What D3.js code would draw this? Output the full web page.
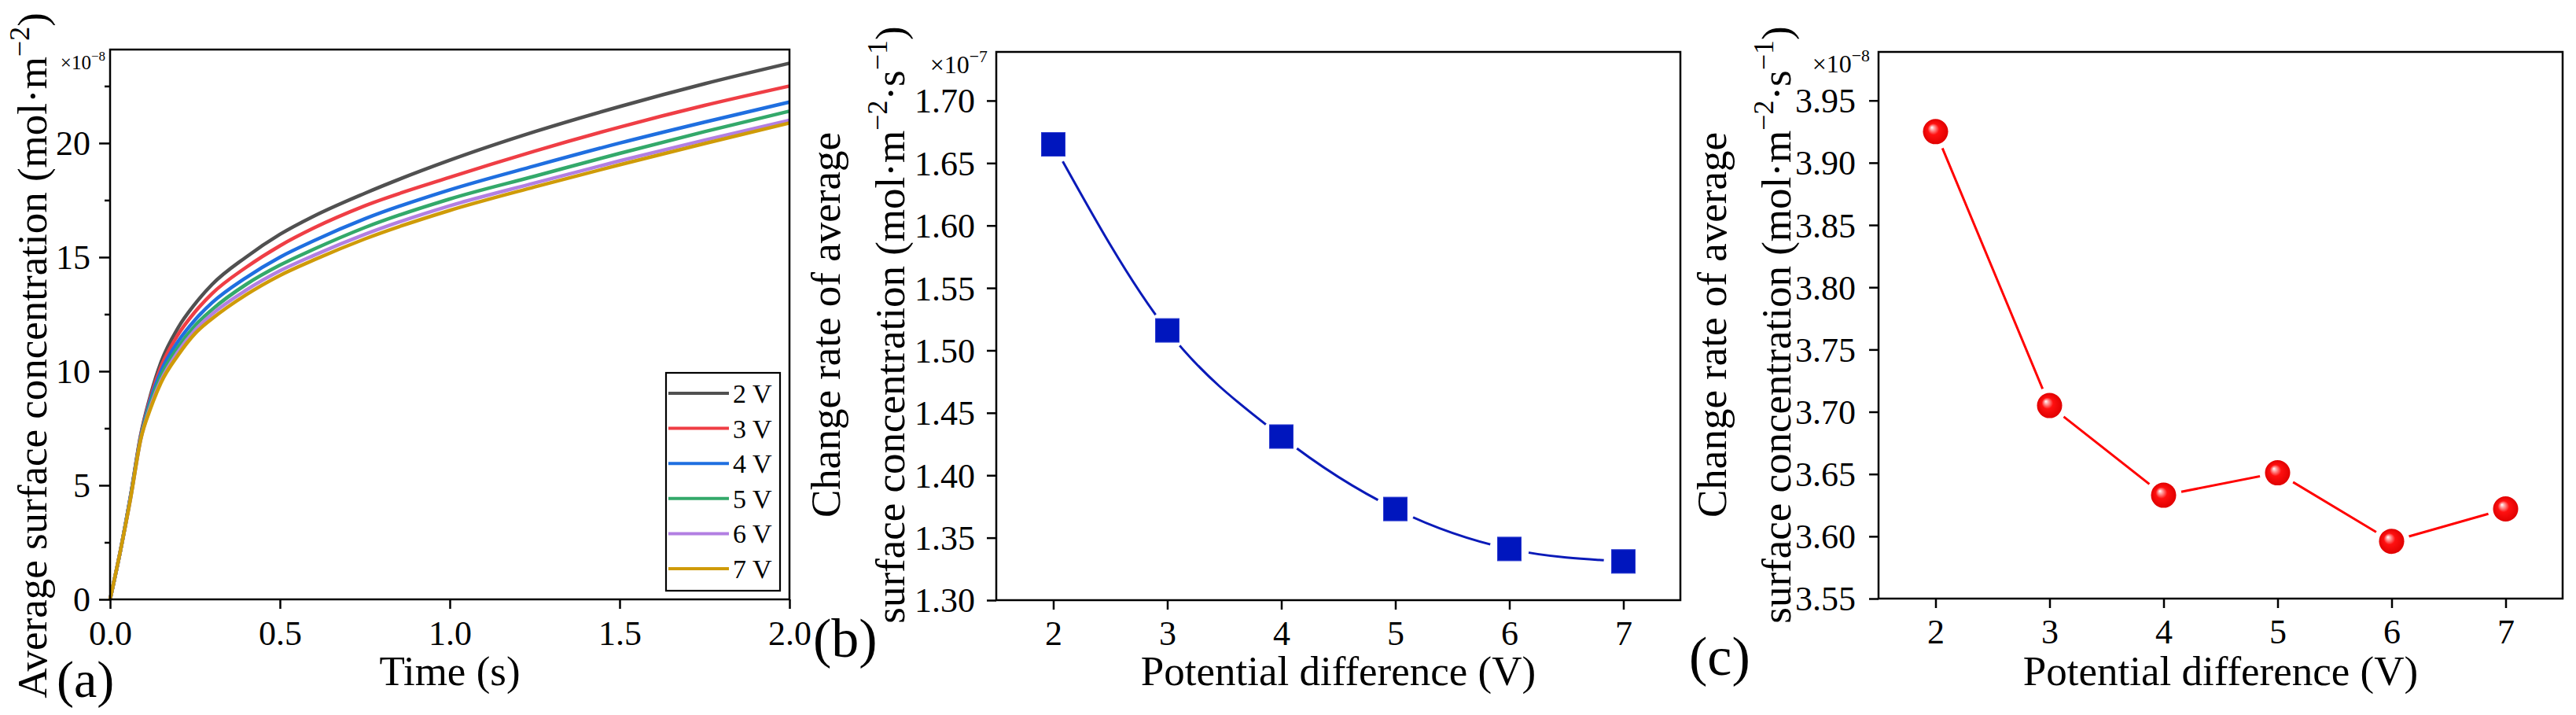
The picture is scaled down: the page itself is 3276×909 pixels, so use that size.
<!DOCTYPE html>
<html>
<head>
<meta charset="utf-8">
<script src="https://cdn.jsdelivr.net/npm/d3@7"></script>
<style>
  body { margin: 0; background: #fff; }
  svg { display: block; }
  text { font-family: "Liberation Serif", "Times New Roman", serif; fill: #000; }
</style>
</head>
<body>
<svg id="chart" width="3276" height="909"></svg>
<script>
// ---------------- DATA ----------------
// Panel (a): average surface concentration (x1e-8 mol/m2) vs time (s)
const timeS   = [0, 0.03, 0.06, 0.09, 0.12, 0.15, 0.2, 0.25, 0.3, 0.4, 0.5, 0.6, 0.75, 1.0, 1.25, 1.5, 1.75, 2.0];
const conc2V  = [0, 2.1, 4.5, 7.2, 9.0, 10.4, 11.9, 12.95, 13.8, 15.0, 16.0, 16.8, 17.8, 19.25, 20.5, 21.6, 22.6, 23.5];
const conc3V  = [0, 2.1, 4.5, 7.15, 8.9, 10.2, 11.6, 12.6, 13.4, 14.55, 15.5, 16.28, 17.25, 18.5, 19.65, 20.7, 21.65, 22.5];
const conc4V  = [0, 2.1, 4.5, 7.1, 8.8, 10.0, 11.3, 12.25, 13.0, 14.1, 15.0, 15.72, 16.68, 17.95, 19.0, 20.0, 20.92, 21.8];
const conc5V  = [0, 2.1, 4.45, 7.05, 8.65, 9.8, 11.05, 12.0, 12.7, 13.8, 14.65, 15.35, 16.3, 17.55, 18.55, 19.55, 20.5, 21.4];
const conc6V  = [0, 2.1, 4.4, 7.0, 8.5, 9.6, 10.85, 11.8, 12.5, 13.55, 14.4, 15.08, 16.0, 17.25, 18.25, 19.22, 20.13, 21.0];
const conc7V  = [0, 2.1, 4.4, 7.0, 8.4, 9.5, 10.7, 11.65, 12.3, 13.35, 14.2, 14.88, 15.8, 17.05, 18.08, 19.05, 19.98, 20.88];
const seriesNames  = ["2 V", "3 V", "4 V", "5 V", "6 V", "7 V"];
const seriesColors = ["#505050", "#ef3e45", "#1f6fe0", "#33a96a", "#b27fe2", "#cf9b08"];

// Panel (b) and (c): change rate vs potential difference
const potentialV = [2, 3, 4, 5, 6, 7];
const rateB = [1.665, 1.516, 1.431, 1.373, 1.341, 1.331];   // x1e-7
const rateC = [3.925, 3.705, 3.633, 3.651, 3.596, 3.622];   // x1e-8

// Tick values
const ticksAx = [0, 0.5, 1.0, 1.5, 2.0];
const ticksAy = [0, 5, 10, 15, 20];
const ticksAyMinor = [2.5, 7.5, 12.5, 17.5, 22.5];
const ticksV  = [2, 3, 4, 5, 6, 7];
const ticksBy = [1.30, 1.35, 1.40, 1.45, 1.50, 1.55, 1.60, 1.65, 1.70];
const ticksCy = [3.55, 3.60, 3.65, 3.70, 3.75, 3.80, 3.85, 3.90, 3.95];

// ---------------- DRAW ----------------
const svg = d3.select("#chart");
svg.append("rect").attr("width", 3276).attr("height", 909).attr("fill", "#fff");

const defs = svg.append("defs");
const grad = defs.append("radialGradient").attr("id", "ball")
  .attr("cx", "0.5").attr("cy", "0.5").attr("r", "0.5")
  .attr("fx", "0.35").attr("fy", "0.33");
grad.append("stop").attr("offset", "0").attr("stop-color", "#ffffff");
grad.append("stop").attr("offset", "0.18").attr("stop-color", "#ff9a9a");
grad.append("stop").attr("offset", "0.45").attr("stop-color", "#ff1010");
grad.append("stop").attr("offset", "1").attr("stop-color", "#e00000");

const TICK_FONT = 44, TITLE_FONT = 53, SW = 2.5;

function frame(p) {
  svg.append("rect")
    .attr("x", p.x0).attr("y", p.y0)
    .attr("width", p.x1 - p.x0).attr("height", p.y1 - p.y0)
    .attr("fill", "none").attr("stroke", "#000").attr("stroke-width", SW);
}

function styleAxis(g) {
  g.select(".domain").remove();
  g.selectAll(".tick line").attr("stroke", "#000").attr("stroke-width", SW);
  g.selectAll(".tick text").attr("font-size", TICK_FONT)
    .attr("font-family", "Liberation Serif, Times New Roman, serif").attr("fill", "#000");
}

function xAxis(p, x, ticks, fmt, size, baseline) {
  const g = svg.append("g").attr("transform", `translate(0,${p.y1})`)
    .call(d3.axisBottom(x).tickValues(ticks).tickFormat(fmt).tickSize(size).tickSizeOuter(0));
  styleAxis(g);
  g.selectAll(".tick text").attr("y", baseline - p.y1).attr("dy", 0);
}

function yAxis(p, y, ticks, fmt, size, labelRight) {
  const g = svg.append("g").attr("transform", `translate(${p.x0},0)`)
    .call(d3.axisLeft(y).tickValues(ticks).tickFormat(fmt).tickSize(size).tickSizeOuter(0));
  styleAxis(g);
  g.selectAll(".tick text").attr("x", labelRight - p.x0).attr("dy", "0.34em");
  return g;
}

function multiplier(xEnd, baseline, exp, size) {
  const t = svg.append("text").attr("x", xEnd).attr("y", baseline)
    .attr("text-anchor", "end").attr("font-size", size);
  t.append("tspan").text("×10");
  t.append("tspan").attr("dy", -size * 0.45).attr("font-size", size * 0.68).text("−" + exp);
}

function supLabel(parent, parts, size) {
  // parts: array of [text, isSup]
  let shift = 0;
  parts.forEach(([s, sup]) => {
    const ts = parent.append("tspan").text(s);
    if (sup && shift === 0) { ts.attr("dy", -size * 0.42).attr("font-size", size * 0.68); shift = 1; }
    else if (!sup && shift === 1) { ts.attr("dy", size * 0.42); shift = 0; }
    else if (sup) { ts.attr("font-size", size * 0.68); }
  });
}

// ---------- Panel (a) ----------
const pA = { x0: 140, x1: 1004, y0: 63, y1: 762 };
const xA = d3.scaleLinear().domain([0, 2]).range([pA.x0, pA.x1]);
const yA = d3.scaleLinear().domain([0, 24.1]).range([pA.y1, pA.y0]);

const allSeries = [conc2V, conc3V, conc4V, conc5V, conc6V, conc7V];
const lineA = d3.line().x((d, i) => xA(timeS[i])).y(d => yA(d)).curve(d3.curveMonotoneX);
const gA = svg.append("g");
allSeries.forEach((s, k) => {
  gA.append("path").attr("d", lineA(s)).attr("fill", "none")
    .attr("stroke", seriesColors[k]).attr("stroke-width", 4.5).attr("stroke-linejoin", "round");
});

xAxis(pA, xA, ticksAx, d3.format(".1f"), 12, 820);
yAxis(pA, yA, ticksAy, d3.format("d"), 14, 115);
const gAm = svg.append("g").attr("transform", `translate(${pA.x0},0)`)
  .call(d3.axisLeft(yA).tickValues(ticksAyMinor).tickFormat("").tickSize(7).tickSizeOuter(0));
styleAxis(gAm);
frame(pA);
multiplier(134, 88, "8", 25);

// legend
const leg = { x0: 847, y0: 474, x1: 992, y1: 751 };
svg.append("rect").attr("x", leg.x0).attr("y", leg.y0)
  .attr("width", leg.x1 - leg.x0).attr("height", leg.y1 - leg.y0)
  .attr("fill", "#fff").attr("stroke", "#000").attr("stroke-width", 2.2);
const legY = d3.scalePoint().domain(seriesNames).range([500, 723]);
seriesNames.forEach((n, k) => {
  const yy = legY(n);
  svg.append("line").attr("x1", 850).attr("x2", 927).attr("y1", yy).attr("y2", yy)
    .attr("stroke", seriesColors[k]).attr("stroke-width", 4);
  svg.append("text").attr("x", 932).attr("y", yy + 12).attr("font-size", 34).text(n);
});

// titles (a)
svg.append("text").attr("x", xA(1)).attr("y", 871).attr("text-anchor", "middle")
  .attr("font-size", TITLE_FONT).text("Time (s)");
const tA = svg.append("text").attr("transform", "translate(59,452) rotate(-90)")
  .attr("text-anchor", "middle").attr("font-size", TITLE_FONT);
supLabel(tA, [["Average surface concentration (mol·m", false], ["−2", true], [")", false]], TITLE_FONT);
svg.append("text").attr("x", 72).attr("y", 886).attr("font-size", 66).text("(a)");

// ---------- Panel (b) ----------
const pB = { x0: 1267, x1: 2137, y0: 66, y1: 763 };
const xB = d3.scaleLinear().domain([1.5, 7.5]).range([pB.x0, pB.x1]);
const yB = d3.scaleLinear().domain([1.30, 1.739]).range([pB.y1, pB.y0]);
const lineB = d3.line().x((d, i) => xB(potentialV[i])).y(d => yB(d)).curve(d3.curveMonotoneX);
svg.append("path").attr("d", lineB(rateB)).attr("fill", "none")
  .attr("stroke", "#0a1ab8").attr("stroke-width", 3);
svg.append("g").selectAll("circle").data(rateB).join("circle")
  .attr("cx", (d, i) => xB(potentialV[i])).attr("cy", d => yB(d)).attr("r", 25).attr("fill", "#fff");
svg.append("g").selectAll("rect").data(rateB).join("rect")
  .attr("x", (d, i) => xB(potentialV[i]) - 15).attr("y", d => yB(d) - 15)
  .attr("width", 30).attr("height", 30).attr("fill", "#0016be")
  .attr("stroke", "#2a3ad0").attr("stroke-width", 1);

xAxis(pB, xB, ticksV, d3.format("d"), 12, 820);
yAxis(pB, yB, ticksBy, d3.format(".2f"), 12, 1240);
frame(pB);
multiplier(1256, 93, "7", 32);

svg.append("text").attr("x", xB(4.5)).attr("y", 871).attr("text-anchor", "middle")
  .attr("font-size", TITLE_FONT).text("Potential difference (V)");
svg.append("text").attr("transform", "translate(1068,413) rotate(-90)")
  .attr("text-anchor", "middle").attr("font-size", TITLE_FONT).text("Change rate of average");
const tB = svg.append("text").attr("transform", "translate(1150,413) rotate(-90)")
  .attr("text-anchor", "middle").attr("font-size", TITLE_FONT);
supLabel(tB, [["surface concentration (mol·m", false], ["−2", true], ["·s", false], ["−1", true], [")", false]], TITLE_FONT);
svg.append("text").attr("x", 1034).attr("y", 835).attr("font-size", 70).text("(b)");

// ---------- Panel (c) ----------
const pC = { x0: 2389, x1: 3259, y0: 66, y1: 761 };
const xC = d3.scaleLinear().domain([1.5, 7.5]).range([pC.x0, pC.x1]);
const yC = d3.scaleLinear().domain([3.55, 3.989]).range([pC.y1, pC.y0]);
const lineC = d3.line().x((d, i) => xC(potentialV[i])).y(d => yC(d));
svg.append("path").attr("d", lineC(rateC)).attr("fill", "none")
  .attr("stroke", "#ff0000").attr("stroke-width", 3);
svg.append("g").selectAll("circle").data(rateC).join("circle")
  .attr("cx", (d, i) => xC(potentialV[i])).attr("cy", d => yC(d)).attr("r", 23).attr("fill", "#fff");
svg.append("g").selectAll("circle").data(rateC).join("circle")
  .attr("cx", (d, i) => xC(potentialV[i])).attr("cy", d => yC(d)).attr("r", 16)
  .attr("fill", "url(#ball)");

xAxis(pC, xC, ticksV, d3.format("d"), 12, 818);
yAxis(pC, yC, ticksCy, d3.format(".2f"), 12, 2360);
frame(pC);
multiplier(2378, 92, "8", 32);

svg.append("text").attr("x", xC(4.5)).attr("y", 871).attr("text-anchor", "middle")
  .attr("font-size", TITLE_FONT).text("Potential difference (V)");
svg.append("text").attr("transform", "translate(2195,413) rotate(-90)")
  .attr("text-anchor", "middle").attr("font-size", TITLE_FONT).text("Change rate of average");
const tC = svg.append("text").attr("transform", "translate(2277,413) rotate(-90)")
  .attr("text-anchor", "middle").attr("font-size", TITLE_FONT);
supLabel(tC, [["surface concentration (mol·m", false], ["−2", true], ["·s", false], ["−1", true], [")", false]], TITLE_FONT);
svg.append("text").attr("x", 2148).attr("y", 858).attr("font-size", 70).text("(c)");
</script>
</body>
</html>
